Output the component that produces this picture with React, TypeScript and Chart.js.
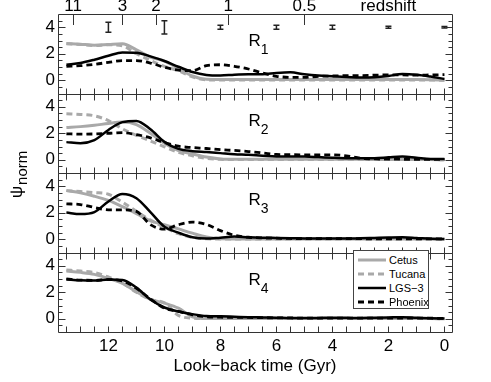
import React, { useEffect, useRef } from 'react';
import { Chart, registerables } from 'chart.js';

Chart.register(...registerables);

const FONT = "'Liberation Sans', Arial, Helvetica, sans-serif";
const GRAY = '#a9a9a9';
const BLACK = '#000000';

// look-back time grid (Gyr)
const T = [13.5, 13, 12.5, 12, 11.5, 11, 10.5, 10, 9.5, 9, 8.5, 8, 7.5, 7, 6.5, 6, 5.5, 5, 4.5, 4, 3.5, 3, 2.5, 2, 1.5, 1, 0.5, 0];

// R1
const cetusR1 = [2.78, 2.72, 2.65, 2.7, 2.75, 2.3, 1.75, 1.45, 0.9, 0.32, 0.07, 0.05, 0.05, 0.05, 0.05, 0.05, 0.05, 0.05, 0.05, 0.05, 0.05, 0.05, 0.05, 0.05, 0.05, 0.05, 0.04, 0.0];
const tucanaR1 = [2.75, 2.7, 2.62, 2.68, 2.6, 2.0, 1.5, 1.05, 0.72, 0.25, 0.03, 0.02, 0.02, 0.02, 0.02, 0.02, 0.02, 0.02, 0.02, 0.02, 0.02, 0.02, 0.02, 0.02, 0.02, 0.02, 0.02, 0.0];
const lgs3R1 = [1.17, 1.3, 1.55, 1.85, 2.1, 2.08, 1.8, 1.45, 1.02, 0.62, 0.4, 0.36, 0.42, 0.45, 0.45, 0.55, 0.6, 0.45, 0.35, 0.3, 0.25, 0.2, 0.22, 0.32, 0.47, 0.42, 0.28, 0.1];
const phoenixR1 = [1.04, 1.1, 1.2, 1.35, 1.48, 1.48, 1.3, 0.98, 0.76, 0.72, 1.1, 1.17, 1.05, 0.85, 0.55, 0.3, 0.22, 0.22, 0.3, 0.32, 0.35, 0.35, 0.38, 0.4, 0.4, 0.38, 0.4, 0.42];

// R2
const cetusR2 = [2.44, 2.5, 2.6, 2.74, 2.84, 2.65, 2.0, 1.25, 0.7, 0.44, 0.2, 0.06, 0.03, 0.03, 0.03, 0.03, 0.03, 0.03, 0.03, 0.03, 0.03, 0.03, 0.03, 0.03, 0.03, 0.03, 0.02, 0.0];
const tucanaR2 = [3.47, 3.42, 3.32, 2.95, 2.33, 1.84, 1.42, 0.98, 0.56, 0.3, 0.1, 0.03, 0.02, 0.02, 0.02, 0.02, 0.02, 0.02, 0.02, 0.02, 0.02, 0.02, 0.02, 0.02, 0.02, 0.02, 0.02, 0.0];
const lgs3R2 = [1.33, 1.25, 1.48, 2.25, 2.84, 2.93, 2.3, 1.35, 0.82, 0.65, 0.58, 0.5, 0.42, 0.37, 0.3, 0.24, 0.24, 0.24, 0.2, 0.15, 0.12, 0.12, 0.12, 0.18, 0.24, 0.15, 0.06, 0.05];
const phoenixR2 = [1.96, 1.93, 1.95, 2.0, 2.05, 1.9, 1.65, 1.3, 1.02, 0.92, 0.85, 0.76, 0.7, 0.62, 0.52, 0.4, 0.38, 0.37, 0.37, 0.37, 0.3, 0.12, 0.06, 0.05, 0.04, 0.03, 0.03, 0.03];

// R3
const cetusR3 = [3.67, 3.5, 3.25, 2.93, 2.46, 1.94, 1.39, 1.1, 0.78, 0.46, 0.17, 0.03, 0.02, 0.02, 0.02, 0.02, 0.02, 0.02, 0.02, 0.02, 0.02, 0.02, 0.02, 0.02, 0.02, 0.02, 0.02, 0.0];
const tucanaR3 = [3.67, 3.6, 3.52, 3.4, 2.8, 2.1, 1.45, 0.9, 0.42, 0.15, 0.03, 0.02, 0.02, 0.02, 0.02, 0.02, 0.02, 0.02, 0.02, 0.02, 0.02, 0.02, 0.02, 0.02, 0.02, 0.02, 0.02, 0.0];
const lgs3R3 = [2.01, 1.9, 2.05, 2.85, 3.42, 3.1, 2.05, 0.95, 0.5, 0.15, 0.05, 0.12, 0.2, 0.15, 0.12, 0.1, 0.08, 0.06, 0.05, 0.05, 0.05, 0.07, 0.1, 0.13, 0.15, 0.1, 0.04, 0.02];
const phoenixR3 = [2.67, 2.62, 2.4, 2.22, 2.22, 2.1, 1.1, 0.76, 1.1, 1.29, 1.12, 0.65, 0.3, 0.15, 0.1, 0.08, 0.06, 0.05, 0.04, 0.04, 0.04, 0.04, 0.03, 0.03, 0.03, 0.03, 0.03, 0.03];

// R4
const cetusR4 = [3.6, 3.5, 3.35, 3.05, 2.67, 2.05, 1.47, 1.18, 0.8, 0.15, 0.02, 0.02, 0.02, 0.02, 0.02, 0.02, 0.02, 0.02, 0.02, 0.02, 0.02, 0.02, 0.02, 0.02, 0.02, 0.02, 0.02, 0.0];
const tucanaR4 = [3.68, 3.6, 3.48, 3.15, 2.7, 2.0, 1.45, 1.2, 0.25, 0.05, 0.02, 0.02, 0.02, 0.02, 0.02, 0.02, 0.02, 0.02, 0.02, 0.02, 0.02, 0.02, 0.02, 0.02, 0.02, 0.02, 0.02, 0.0];
const lgs3R4 = [2.98, 2.9, 2.88, 2.97, 2.93, 2.35, 1.45, 0.85, 0.55, 0.35, 0.2, 0.18, 0.15, 0.12, 0.1, 0.08, 0.05, 0.05, 0.06, 0.08, 0.07, 0.06, 0.08, 0.1, 0.12, 0.08, 0.04, 0.02];
const phoenixR4 = [3.0, 2.92, 2.9, 2.95, 2.85, 2.3, 1.5, 0.8, 0.55, 0.3, 0.15, 0.12, 0.1, 0.1, 0.08, 0.07, 0.06, 0.05, 0.05, 0.05, 0.05, 0.05, 0.05, 0.05, 0.05, 0.05, 0.04, 0.03];

// axes
const X_MIN = -0.27;
const X_MAX = 13.8;
const Y_MIN = -1;
const Y_MAX = 5;
const xTicks = [0, 2, 4, 6, 8, 10, 12];
const yTicks = [0, 2, 4];
const zLabels = ['11', '3', '2', '1', '0.5'];
const zLookback = [13.26, 11.5, 10.3, 7.72, 5.0];
const zTitle = 'redshift';
const zTitleAt = 2.0;

// time-resolution error bars in R1
const errT = [12, 10, 8, 6, 4, 2, 0];
const errCenter = [4, 4, 4, 4, 4, 4, 4];
const errHalf = [0.38, 0.5, 0.15, 0.15, 0.15, 0.08, 0.05];

const panelIds = ['y1', 'y2', 'y3', 'y4'];
const panelNames = ['1', '2', '3', '4'];

const series = [
  { name: 'Cetus', color: GRAY, dash: [] as number[], width: 3, order: 4, values: [cetusR1, cetusR2, cetusR3, cetusR4] },
  { name: 'Tucana', color: GRAY, dash: [6, 4], width: 3, order: 3, values: [tucanaR1, tucanaR2, tucanaR3, tucanaR4] },
  { name: 'LGS\u22123', color: BLACK, dash: [] as number[], width: 2.5, order: 2, values: [lgs3R1, lgs3R2, lgs3R3, lgs3R4] },
  { name: 'Phoenix', color: BLACK, dash: [6, 4], width: 2.8, order: 1, values: [phoenixR1, phoenixR2, phoenixR3, phoenixR4] },
];

function buildDatasets() {
  const ds: any[] = [];
  series.forEach((s) => {
    s.values.forEach((vals, k) => {
      ds.push({
        label: `${s.name} R${k + 1}`,
        data: T.map((t, i) => ({ x: t, y: vals[i] })),
        xAxisID: 'x',
        yAxisID: panelIds[k],
        borderColor: s.color,
        borderWidth: s.width,
        borderDash: s.dash,
        pointRadius: 0,
        fill: false,
        cubicInterpolationMode: 'monotone',
        order: s.order,
      });
    });
  });
  errT.forEach((t, i) => {
    ds.push({
      label: `err ${t}`,
      data: [
        { x: t, y: errCenter[i] - errHalf[i] },
        { x: t, y: errCenter[i] + errHalf[i] },
      ],
      xAxisID: 'x',
      yAxisID: 'y1',
      borderColor: '#222',
      borderWidth: 1.5,
      pointStyle: 'line',
      pointRadius: 3,
      pointBorderWidth: 1.5,
      pointBorderColor: '#222',
      fill: false,
      order: 0,
    });
  });
  return ds;
}

const framePlugin = {
  id: 'panelFrames',
  afterDatasetsDraw(chart: any) {
    const ctx: CanvasRenderingContext2D = chart.ctx;
    const xs = chart.scales.x;
    const L = Math.round(xs.left) + 0.5;
    const R = Math.round(xs.right) + 0.5;
    ctx.save();
    ctx.strokeStyle = '#333';
    ctx.lineWidth = 1;
    panelIds.forEach((id, k) => {
      const ys = chart.scales[id];
      const top = Math.round(ys.top) + 0.5;
      const bot = Math.round(ys.bottom) + 0.5;
      ctx.beginPath();
      ctx.rect(L, top, R - L, bot - top);
      for (let t = 0; t <= 13.5 + 1e-6; t += 0.5) {
        const px = Math.round(xs.getPixelForValue(t)) + 0.5;
        if (k > 0) {
          ctx.moveTo(px, top);
          ctx.lineTo(px, top + 6);
        }
        ctx.moveTo(px, bot);
        ctx.lineTo(px, bot - 6);
      }
      for (let v = -0.5; v <= 4.5 + 1e-6; v += 0.5) {
        const py = Math.round(ys.getPixelForValue(v)) + 0.5;
        const len = Math.abs(v % 2) < 1e-6 ? 7 : 4;
        ctx.moveTo(L, py);
        ctx.lineTo(L + len, py);
        ctx.moveTo(R, py);
        ctx.lineTo(R - len, py);
      }
      ctx.stroke();
    });
    // redshift ticks
    const y1 = chart.scales.y1;
    ctx.beginPath();
    zLookback.forEach((t) => {
      const px = Math.round(xs.getPixelForValue(t)) + 0.5;
      ctx.moveTo(px, y1.top);
      ctx.lineTo(px, y1.top + 11);
    });
    ctx.stroke();

    // panel labels R_n
    ctx.fillStyle = '#000';
    ctx.textAlign = 'left';
    ctx.textBaseline = 'alphabetic';
    panelIds.forEach((id, k) => {
      const ys = chart.scales[id];
      const px = xs.getPixelForValue(7.0);
      const py = ys.getPixelForValue(2.55);
      ctx.font = `17px ${FONT}`;
      ctx.fillText('R', px, py);
      const w = ctx.measureText('R').width;
      ctx.font = `14px ${FONT}`;
      ctx.fillText(panelNames[k], px + w, py + 8);
    });

    // y title psi_norm
    ctx.save();
    ctx.translate(17, 198);
    ctx.rotate(-Math.PI / 2);
    ctx.textBaseline = 'middle';
    ctx.font = `17px ${FONT}`;
    ctx.fillText('\u03C8', 0, 0);
    const wp = ctx.measureText('\u03C8').width;
    ctx.font = `15px ${FONT}`;
    ctx.fillText('norm', wp + 1, 6);
    ctx.restore();

    ctx.restore();
  },
};

function yScale(weight: number) {
  return {
    type: 'linear',
    position: 'left',
    stack: 'panels',
    stackWeight: 1,
    weight,
    min: Y_MIN,
    max: Y_MAX,
    afterBuildTicks: (s: any) => {
      s.ticks = yTicks.map((v) => ({ value: v }));
    },
    afterFit: (s: any) => {
      s.width = 58;
    },
    grid: { display: false, drawTicks: false },
    border: { display: false },
    ticks: { font: { family: FONT, size: 17 }, color: '#000', padding: 3 },
  };
}

const Legend = () => (
  <div
    style={{
      position: 'absolute',
      left: 353,
      top: 250,
      width: 74,
      height: 57,
      border: '1px solid #444',
      background: '#fff',
      fontFamily: FONT,
      fontSize: 11,
      color: '#000',
      boxSizing: 'content-box',
    }}
  >
    {series.map((s, i) => (
      <div
        key={s.name}
        style={{ position: 'absolute', left: 4, top: 2 + i * 14, height: 14, display: 'flex', alignItems: 'center', whiteSpace: 'nowrap' }}
      >
        <svg width={28} height={6} style={{ display: 'block' }}>
          <line x1={0} y1={3} x2={28} y2={3} stroke={s.color} strokeWidth={s.width} strokeDasharray={s.dash.length ? s.dash.join(' ') : undefined} />
        </svg>
        <span style={{ marginLeft: 3, lineHeight: '14px' }}>{s.name}</span>
      </div>
    ))}
  </div>
);

export default function App() {
  const ref = useRef<HTMLCanvasElement>(null);
  useEffect(() => {
    const chart = new Chart(ref.current as HTMLCanvasElement, {
      type: 'line',
      data: { datasets: buildDatasets() },
      options: {
        responsive: false,
        animation: false,
        devicePixelRatio: 1,
        layout: { padding: { left: 0, right: 39, top: 0, bottom: 0 } },
        plugins: { legend: { display: false }, tooltip: { enabled: false } },
        scales: {
          x: {
            type: 'linear',
            position: 'bottom',
            min: X_MIN,
            max: X_MAX,
            reverse: true,
            afterBuildTicks: (s: any) => {
              s.ticks = xTicks.map((v) => ({ value: v }));
            },
            afterFit: (s: any) => {
              s.height = 50;
            },
            grid: { display: false, drawTicks: false },
            border: { display: false },
            ticks: { font: { family: FONT, size: 17 }, color: '#000', padding: 4, maxRotation: 0, autoSkip: false },
            title: {
              display: true,
              text: 'Look\u2212back time (Gyr)',
              font: { family: FONT, size: 17 },
              color: '#000',
              padding: { top: 0, bottom: 5 },
            },
          },
          x2: {
            type: 'linear',
            position: 'top',
            min: X_MIN,
            max: X_MAX,
            reverse: true,
            afterBuildTicks: (s: any) => {
              s.ticks = [...zLookback, zTitleAt].map((v) => ({ value: v }));
            },
            afterFit: (s: any) => {
              s.height = 14;
            },
            grid: { display: false, drawTicks: false },
            border: { display: false },
            ticks: {
              font: { family: FONT, size: 17 },
              color: '#000',
              padding: -3,
              maxRotation: 0,
              autoSkip: false,
              callback: (_v: any, i: number) => (i < zLabels.length ? zLabels[i] : zTitle),
            },
          },
          y1: yScale(4),
          y2: yScale(3),
          y3: yScale(2),
          y4: yScale(1),
        } as any,
      },
      plugins: [framePlugin],
    } as any);
    return () => chart.destroy();
  }, []);

  return (
    <div style={{ position: 'fixed', left: 0, top: 0, width: 491, height: 382, background: '#fff', overflow: 'hidden' }}>
      <canvas ref={ref} width={491} height={382} style={{ display: 'block', width: 491, height: 382 }} />
      <Legend />
    </div>
  );
}
